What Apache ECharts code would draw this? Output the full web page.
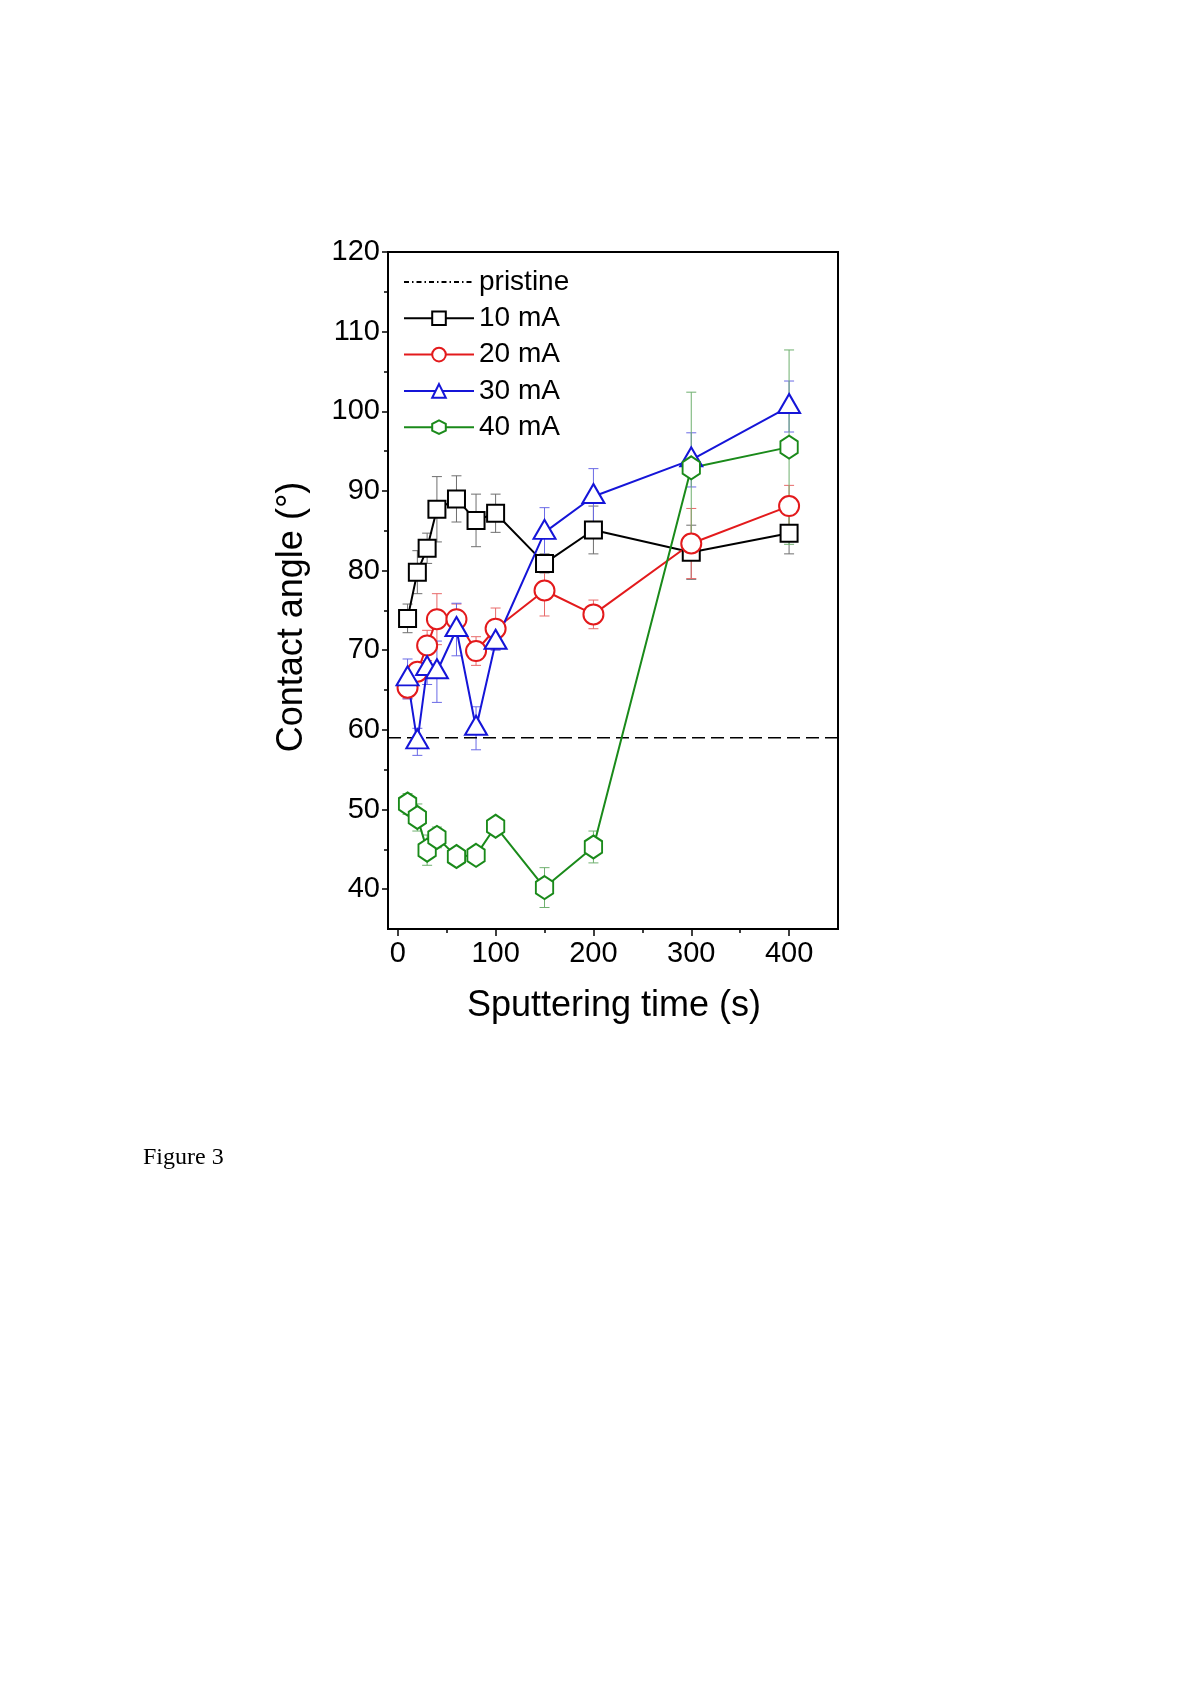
<!DOCTYPE html>
<html>
<head>
<meta charset="utf-8">
<title>Contact angle vs sputtering time</title>
<script src="https://cdn.jsdelivr.net/npm/echarts@6/dist/echarts.min.js"></script>
<style>
  html, body { margin: 0; padding: 0; background: #fff; }
  #chart { width: 1200px; height: 1698px; }
</style>
</head>
<body>
<div id="chart"></div>
<script>
const times = [10, 20, 30, 40, 60, 80, 100, 150, 200, 300, 400]

const angle10 = [74.0, 79.8, 82.8, 87.7, 89.0, 86.3, 87.2, 80.9, 85.1, 82.3, 84.7]
const err10 = [1.8, 2.7, 1.9, 4.1, 2.9, 3.3, 2.4, 1.2, 3.0, 3.4, 2.6]

const angle20 = [65.3, 67.3, 70.6, 73.9, 73.9, 69.9, 72.7, 77.5, 74.5, 83.4, 88.1]
const err20 = [1.4, 1.0, 1.9, 3.2, 1.9, 1.8, 2.6, 3.2, 1.8, 4.4, 2.6]

const angle30 = [66.4, 58.5, 67.7, 67.3, 72.6, 60.2, 71.0, 84.8, 89.3, 93.9, 100.6]
const err30 = [2.5, 1.7, 2.0, 3.85, 3.3, 2.7, 1.0, 3.1, 3.5, 3.4, 3.2]

const angle40 = [50.7, 49.0, 44.9, 46.5, 44.1, 44.25, 47.9, 40.2, 45.3, 92.9, 95.5]
const err40 = [1.3, 1.7, 1.9, 1.3, 0.6, 0.4, 0.5, 2.5, 2.0, 9.5, 12.2]

const pristine = 59

const xMin = -10
const xMax = 450
const yMin = 35
const yMax = 120
const xTicks = [0, 100, 200, 300, 400]
const xMinorTicks = [50, 150, 250, 350]
const yTicks = [40, 50, 60, 70, 80, 90, 100, 110, 120]
const yMinorTicks = [45, 55, 65, 75, 85, 95, 105, 115]

const FONT = "'Liberation Sans', Arial, sans-serif"
const HEXAGON = 'path://M0,-1L0.866,-0.5L0.866,0.5L0,1L-0.866,0.5L-0.866,-0.5Z'

function lineSeries(name, values, color, symbol, size, offset) {
  return {
    name,
    type: 'line',
    data: times.map((t, i) => [t, values[i]]),
    symbol,
    symbolSize: size,
    symbolOffset: offset || [0, 0],
    symbolKeepAspect: true,
    showAllSymbol: true,
    lineStyle: { color, width: 2 },
    itemStyle: { color: '#fff', borderColor: color, borderWidth: 2 },
    z: 3
  }
}

function errorSeries(values, errors, color) {
  return {
    type: 'custom',
    data: times.map((t, i) => [t, values[i], errors[i]]),
    encode: { x: 0, y: 1 },
    silent: true,
    z: 1,
    renderItem(params, api) {
      const x = api.value(0)
      const y = api.value(1)
      const e = api.value(2)
      const top = api.coord([x, y + e])
      const bot = api.coord([x, y - e])
      const w = 5
      const style = { stroke: color, lineWidth: 1 }
      return {
        type: 'group',
        children: [
          { type: 'line', shape: { x1: top[0], y1: top[1], x2: bot[0], y2: bot[1] }, style },
          { type: 'line', shape: { x1: top[0] - w, y1: top[1], x2: top[0] + w, y2: top[1] }, style },
          { type: 'line', shape: { x1: bot[0] - w, y1: bot[1], x2: bot[0] + w, y2: bot[1] }, style }
        ]
      }
    }
  }
}

function minorAxis(min, max, position, ticks) {
  return {
    type: 'value',
    min,
    max,
    position,
    axisLine: { show: false, onZero: false },
    axisTick: { show: true, length: 4, customValues: ticks, lineStyle: { color: '#000', width: 1.5 } },
    axisLabel: { show: false },
    splitLine: { show: false }
  }
}

const chart = echarts.init(document.getElementById('chart'), null, { renderer: 'canvas' })

chart.setOption({
  animation: false,
  backgroundColor: '#fff',
  grid: {
    left: 388,
    right: 362,
    top: 252,
    bottom: 769,
    show: true,
    borderColor: '#000',
    borderWidth: 2,
    backgroundColor: 'transparent'
  },
  legend: {
    orient: 'vertical',
    left: 403,
    top: 268,
    padding: 0,
    itemWidth: 70,
    itemHeight: 17,
    itemGap: 8.3,
    selectedMode: false,
    textStyle: { fontSize: 28, lineHeight: 28, color: '#000', fontFamily: FONT },
    data: ['pristine', '10 mA', '20 mA', '30 mA', '40 mA']
  },
  xAxis: [
    {
      type: 'value',
      min: xMin,
      max: xMax,
      position: 'bottom',
      axisLine: { show: true, onZero: false, lineStyle: { color: '#000', width: 2 } },
      axisTick: { show: true, length: 7, customValues: xTicks, lineStyle: { color: '#000', width: 1.5 } },
      axisLabel: { customValues: xTicks, margin: 10, fontSize: 29, color: '#000', fontFamily: FONT },
      splitLine: { show: false }
    },
    minorAxis(xMin, xMax, 'bottom', xMinorTicks)
  ],
  yAxis: [
    {
      type: 'value',
      min: yMin,
      max: yMax,
      position: 'left',
      axisLine: { show: true, onZero: false, lineStyle: { color: '#000', width: 2 } },
      axisTick: { show: true, length: 6, customValues: yTicks, lineStyle: { color: '#000', width: 1.5 } },
      axisLabel: { customValues: yTicks, margin: 8, fontSize: 29, color: '#000', fontFamily: FONT },
      splitLine: { show: false }
    },
    minorAxis(yMin, yMax, 'left', yMinorTicks)
  ],
  graphic: [
    {
      type: 'text',
      x: 614,
      y: 1006,
      style: { text: 'Sputtering time (s)', x: 0, y: 0, align: 'center', verticalAlign: 'middle', font: '36px ' + FONT, fill: '#000' }
    },
    {
      type: 'text',
      x: 292,
      y: 617,
      rotation: Math.PI / 2,
      style: { text: 'Contact angle (°)', x: 0, y: 0, align: 'center', verticalAlign: 'middle', font: '36px ' + FONT, fill: '#000' }
    },
    {
      type: 'text',
      x: 143,
      y: 1158,
      style: { text: 'Figure 3', x: 0, y: 0, align: 'left', verticalAlign: 'middle', font: "24px 'Liberation Serif', 'Times New Roman', serif", fill: '#000' }
    }
  ],
  series: [
    {
      // legend entry only, drawn dash-dot as in the key
      name: 'pristine',
      type: 'line',
      data: [],
      symbol: 'none',
      lineStyle: { color: '#000', width: 1.5, type: [5, 3, 1.5, 3] },
      itemStyle: { opacity: 0 }
    },
    {
      name: 'pristine line',
      type: 'line',
      data: [[xMin, pristine], [xMax, pristine]],
      symbol: 'none',
      silent: true,
      lineStyle: { color: '#000', width: 1.5, type: [13, 6] },
      z: 1
    },
    errorSeries(angle10, err10, '#6f6f6f'),
    errorSeries(angle20, err20, '#e86a6a'),
    errorSeries(angle30, err30, '#6a6ae6'),
    errorSeries(angle40, err40, '#6fb06f'),
    lineSeries('10 mA', angle10, '#000000', 'rect', 17),
    lineSeries('20 mA', angle20, '#e31a1c', 'circle', 20),
    lineSeries('30 mA', angle30, '#1515d8', 'triangle', [22, 19], [0, -3]),
    lineSeries('40 mA', angle40, '#1a8a1a', HEXAGON, [20, 23])
  ]
})
</script>
</body>
</html>
